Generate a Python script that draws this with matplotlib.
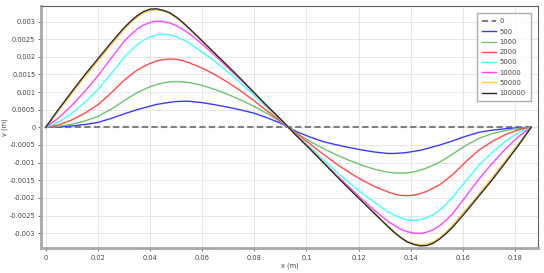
import matplotlib
matplotlib.use("Agg")
import matplotlib.pyplot as plt

# ---- data ----
x = [0, 0.005, 0.01, 0.015, 0.02, 0.025, 0.03, 0.0325, 0.035, 0.0375, 0.04, 0.0425, 0.045, 0.0475,
     0.05, 0.0525, 0.055, 0.06, 0.065, 0.07, 0.075, 0.08, 0.085, 0.09, 0.0931,
     0.0962, 0.1012, 0.1062, 0.1112, 0.1162, 0.1212, 0.1262, 0.1312, 0.1337, 0.1362, 0.1387,
     0.1412, 0.1437, 0.1462, 0.1487, 0.1512, 0.1537, 0.1562, 0.1612, 0.1662, 0.1712, 0.1762, 0.1812, 0.1862]

zero_x = [0, 0.1862]
v_0 = [0, 0]

v_500 = [0, .00001, .00004, .00008, .00014, .00025, .00038, .00044, .00050, .00055, .00060, .00065, .00068, .00071,
         .00073, .00074, .00074, .00070, .00064, .00057, .00049, .00040, .00027, .00012, 0,
         -.00012, -.00027, -.00040, -.00049, -.00057, -.00064, -.00070, -.00074, -.00074, -.00073, -.00071,
         -.00068, -.00065, -.00060, -.00055, -.00050, -.00044, -.00038, -.00025, -.00014, -.00008, -.00004, -.00001, 0]

v_1000 = [0, .00003, .00009, .00018, .00031, .00051, .00075, .00087, .00098, .00107, .00115, .00121, .00126, .00129,
          .00130, .00129, .00127, .00119, .00107, .00093, .00077, .00059, .00039, .00016, 0,
          -.00016, -.00039, -.00059, -.00077, -.00093, -.00107, -.00119, -.00127, -.00129, -.00130, -.00129,
          -.00126, -.00121, -.00115, -.00107, -.00098, -.00087, -.00075, -.00051, -.00031, -.00018, -.00009, -.00003, 0]

v_2000 = [0, .00007, .00021, .00040, .00064, .00097, .00133, .00148, .00162, .00172, .00181, .00188, .00192, .00194,
          .00193, .00189, .00183, .00168, .00149, .00127, .00102, .00075, .00046, .00018, 0,
          -.00018, -.00046, -.00075, -.00102, -.00127, -.00149, -.00168, -.00183, -.00189, -.00193, -.00194,
          -.00192, -.00188, -.00181, -.00172, -.00162, -.00148, -.00133, -.00097, -.00064, -.00040, -.00021, -.00007, 0]

v_5000 = [0, .00015, .00040, .00071, .00107, .00151, .00197, .00217, .00234, .00247, .00256, .00262, .00264, .00263,
          .00257, .00249, .00239, .00213, .00186, .00156, .00124, .00090, .00055, .00022, 0,
          -.00022, -.00055, -.00090, -.00124, -.00156, -.00186, -.00213, -.00239, -.00249, -.00257, -.00263,
          -.00264, -.00262, -.00256, -.00247, -.00234, -.00217, -.00197, -.00151, -.00107, -.00071, -.00040, -.00015, 0]

v_10000 = [0, .00027, .00062, .00102, .00146, .00195, .00243, .00262, .00278, .00290, .00297, .00301, .00300, .00296,
           .00289, .00278, .00266, .00236, .00203, .00168, .00133, .00097, .00059, .00023, 0,
           -.00023, -.00059, -.00097, -.00133, -.00168, -.00203, -.00236, -.00266, -.00278, -.00289, -.00296,
           -.00300, -.00301, -.00297, -.00290, -.00278, -.00262, -.00243, -.00195, -.00146, -.00102, -.00062, -.00027, 0]

v_50000 = [0, .00047, .00095, .00143, .00188, .00233, .00276, .00296, .00312, .00324, .00331, .00333, .00330, .00323,
           .00311, .00296, .00279, .00244, .00208, .00172, .00135, .00097, .00059, .00023, 0,
           -.00023, -.00059, -.00097, -.00135, -.00172, -.00208, -.00244, -.00279, -.00296, -.00311, -.00323,
           -.00330, -.00333, -.00331, -.00324, -.00312, -.00296, -.00276, -.00233, -.00188, -.00143, -.00095, -.00047, 0]

v_100000 = [0, .00052, .00101, .00149, .00194, .00239, .00282, .00300, .00316, .00328, .00335, .00336, .00332, .00325,
            .00313, .00298, .00281, .00245, .00209, .00173, .00136, .00098, .00060, .00024, 0,
            -.00024, -.00060, -.00098, -.00136, -.00173, -.00209, -.00245, -.00281, -.00298, -.00313, -.00325,
            -.00332, -.00336, -.00335, -.00328, -.00316, -.00300, -.00282, -.00239, -.00194, -.00149, -.00101, -.00052, 0]

labels = ["0", "500", "1000", "2000", "5000", "10000", "50000", "100000"]
colors = ["#808080", "#3b3bff", "#6cc46c", "#ff4a4a", "#44ffff", "#ff44ff", "#ffc94a", "#2a2a2a"]

xticks = [0, 0.02, 0.04, 0.06, 0.08, 0.1, 0.12, 0.14, 0.16, 0.18]
xticklabels = ["0", "0.02", "0.04", "0.06", "0.08", "0.1", "0.12", "0.14", "0.16", "0.18"]
yticks = [-0.003, -0.0025, -0.002, -0.0015, -0.001, -0.0005, 0, 0.0005, 0.001, 0.0015, 0.002, 0.0025, 0.003]
yticklabels = ["-0.003", "-0.0025", "-0.002", "-0.0015", "-0.001", "-0.0005", "0",
               "0.0005", "0.001", "0.0015", "0.002", "0.0025", "0.003"]

# ---- figure ----
plt.rcParams['font.family'] = ['DejaVu Sans']
fig = plt.figure(figsize=(5.44, 2.73), dpi=100)
ax = fig.add_axes([41/544, 1 - 248/273, (538 - 41)/544, (248 - 6)/273])

series = [v_500, v_1000, v_2000, v_5000, v_10000, v_50000, v_100000]
ax.plot(zero_x, v_0, color=colors[0], lw=1.5, dashes=(3, 1.6), label=labels[0], zorder=2)
for v, c, lab in zip(series, colors[1:], labels[1:]):
    ax.plot(x, v, color=c, lw=1.0, label=lab, zorder=3, solid_joinstyle="round")

ax.set_xlim(-0.0018, 0.1888)
ax.set_ylim(-0.00342, 0.00344)
ax.set_xticks(xticks)
ax.set_xticklabels(xticklabels)
ax.set_yticks(yticks)
ax.set_yticklabels(yticklabels)
ax.grid(True, color="#e6e6e6", lw=0.7, zorder=0)
ax.set_axisbelow(True)

for side in ["left", "bottom"]:
    ax.spines[side].set_color("#a8a8a8")
    ax.spines[side].set_linewidth(2.0)
for side in ["top", "right"]:
    ax.spines[side].set_color("#606060")
    ax.spines[side].set_linewidth(0.8)

ax.tick_params(axis="both", direction="out", length=2.5, width=0.6, color="#555555",
               labelsize=4.8, labelcolor="#444444", pad=1.5)
ax.tick_params(axis="x", pad=2.5)

ax.set_xlabel("x (m)", fontsize=4.8, color="#444444", labelpad=1)
ax.set_ylabel("v (m)", fontsize=4.8, color="#444444", labelpad=1)

leg = ax.legend(loc="upper right", bbox_to_anchor=(0.986, 0.971), borderaxespad=0,
                fontsize=4.9, frameon=True, fancybox=False, handlelength=2.0,
                handletextpad=0.5, labelspacing=0.62, borderpad=0.8)
leg.get_frame().set_edgecolor("#9a9a9a")
leg.get_frame().set_linewidth(1.0)
for t in leg.get_texts():
    t.set_color("#444444")

fig.savefig("out.png", dpi=100)
